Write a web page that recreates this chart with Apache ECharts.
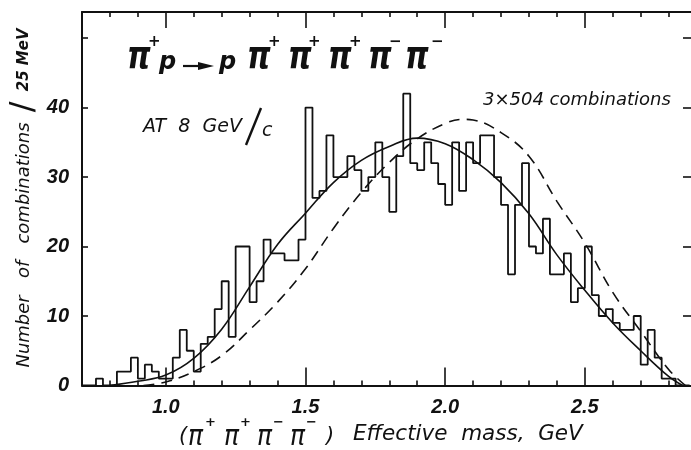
<!DOCTYPE html>
<html><head><meta charset="utf-8">
<script src="https://cdn.jsdelivr.net/npm/echarts@6/dist/echarts.min.js"></script>
<style>html,body{margin:0;padding:0;background:#fff}#c{width:691px;height:450px}</style>
</head><body><div id="c"></div>
<script>
// ---- data ----
const binStart = 0.700;   // GeV, lower edge of first bin
const binWidth = 0.025;   // GeV (25 MeV)
const counts = [0,0,1,0,0,2,2,4,1,3,2,1,1,4,8,5,2,6,7,11,15,7,20,20,12,15,21,19,19,18,
                18,21,40,27,28,36,30,30,33,31,28,30,35,30,25,33,42,32,31,35,32,29,26,35,28,35,32,36,36,30,
                26,16,26,32,20,19,24,16,16,19,12,14,20,13,10,11,9,8,8,10,3,8,4,1,1,0,0];
const solidMass = [0.80,0.90,1.00,1.10,1.20,1.30,1.40,1.50,1.60,1.70,1.80,1.90,2.00,2.10,2.20,2.30,2.40,2.50,2.60,2.70,2.80,2.85];
const solidVal  = [0,   0.6, 1.5, 3.9, 8.1, 14.2,20.3,24.8,29.2,32.4,34.4,35.6,34.8,32.5,29.2,24.7,18.8,13.7,9.0, 5.0, 1.3, 0];
const dashMass  = [0.92,1.00,1.10,1.20,1.30,1.40,1.50,1.60,1.70,1.80,1.90,2.00,2.06,2.10,2.20,2.30,2.40,2.50,2.60,2.70,2.80,2.86];
const dashVal   = [0,   0.5, 2.0, 4.3, 8.0, 12.0,16.8,22.6,27.8,32.1,35.5,37.7,38.3,38.2,36.4,33.0,26.5,20.5,13.4,7.8, 2.3, 0];
const xMajor = [1.0, 1.5, 2.0, 2.5];
const xMinor = [0.8,0.9,1.1,1.2,1.3,1.4,1.6,1.7,1.8,1.9,2.1,2.2,2.3,2.4,2.6,2.7,2.8];
const yTickVals = [10,20,30,40,50];
const yLabelVals = [0,10,20,30,40];

// ---- build ----
const histData = counts.map((c,i)=>[binStart+i*binWidth, c]);
histData.push([binStart+counts.length*binWidth, 0]);
const solidData = solidMass.map((m,i)=>[m, solidVal[i]]);
const dashData = dashMass.map((m,i)=>[m, dashVal[i]]);

const INK = '#111';
const X0 = 0.7, X1 = 2.88, Y0 = 0, Y1 = 53.75;
const labelFont = {fontFamily:'Liberation Sans', fontStyle:'italic', fontWeight:'bold', fontSize:20, color:INK};

function xa(pos, ticks, len, showLine, labels){
  return {type:'value', min:X0, max:X1, position:pos, gridIndex:0,
    axisLine:{show:showLine, onZero:false, lineStyle:{color:INK, width:2}},
    axisTick:{show:true, inside:true, length:len, customValues:ticks, lineStyle:{color:INK, width:1.6}},
    axisLabel: labels ? Object.assign({show:true, customValues:labels, margin:12,
        formatter:v=>Number(v).toFixed(1)}, labelFont) : {show:false},
    splitLine:{show:false}};
}

const option = {
  animation:false,
  backgroundColor:'#fff',
  grid:{left:82, right:0, top:12, bottom:64.5, containLabel:false},
  xAxis:[ xa('bottom', xMinor, 5, true, xMajor), xa('bottom', xMajor, 18, false, null),
          xa('top', xMinor, 5, true, null), xa('top', xMajor, 16, false, null) ],
  yAxis:[
    {type:'value', min:Y0, max:Y1, position:'left',
     axisLine:{show:true, onZero:false, lineStyle:{color:INK, width:2}},
     axisTick:{show:true, inside:true, length:6, customValues:yTickVals, lineStyle:{color:INK, width:1.6}},
     axisLabel:Object.assign({customValues:yLabelVals, margin:13}, labelFont),
     splitLine:{show:false}},
    {type:'value', min:Y0, max:Y1, position:'right',
     axisLine:{show:false},
     axisTick:{show:true, inside:true, length:8, customValues:yTickVals, lineStyle:{color:INK, width:1.6}},
     axisLabel:{show:false}, splitLine:{show:false}}
  ],
  series:[
    {type:'line', name:'histogram', data:histData, step:'end', symbol:'none',
     lineStyle:{color:INK, width:1.8}, z:3},
    {type:'line', name:'fit', data:solidData, smooth:0.4, symbol:'none',
     lineStyle:{color:INK, width:1.6}, z:2},
    {type:'line', name:'phase space', data:dashData, smooth:0.4, symbol:'none',
     lineStyle:{color:INK, width:1.6, type:[11,7]}, z:2}
  ],
  graphic:[]
};

const G = option.graphic;
function txt(x,y,s,st,extra){
  G.push(Object.assign({type:'text', x:x, y:y, z:10,
    style:Object.assign({text:s, fill:INK, fontFamily:'DejaVu Sans', fontStyle:'italic', textVerticalAlign:'middle', textAlign:'left'}, st)}, extra||{}));
}
// reaction title
const piSt = {fontFamily:'DejaVu Sans', fontWeight:'bold', fontSize:30};
const sgSt = {fontFamily:'DejaVu Sans', fontWeight:'bold', fontStyle:'normal', fontSize:15};
const piX = [127,247,288,328,368,405];
const sg = ['+','+','+','+','\u2212','\u2212'];
const sgX = [148,268,308,349,389,431];
piX.forEach((x,i)=>{ txt(x,58,'\u03c0',piSt,{scaleY:1.25});
  txt(sgX[i],42,sg[i],sgSt); });
txt(159,63,'p',{fontSize:24, fontWeight:'bold'});
txt(219,63,'p',{fontSize:24, fontWeight:'bold'});
G.push({type:'line', z:10, shape:{x1:183,y1:66,x2:205,y2:66}, style:{stroke:INK, lineWidth:2.2}});
G.push({type:'polygon', z:10, shape:{points:[[198,62],[214,66],[198,70]]}, style:{fill:INK}});
// AT 8 GeV/c
txt(143,127,'AT  8  GeV',{fontSize:19});
G.push({type:'line', z:10, shape:{x1:246,y1:145,x2:261,y2:108}, style:{stroke:INK, lineWidth:2.4}});
txt(262,131,'c',{fontSize:19});
// 3x504 combinations
txt(483,100,'3\u00d7504 combinations',{fontSize:18});
// x axis title
txt(179,437,'(',{fontSize:21});
const xpiX=[188,224,257,290], xsg=['+','+','\u2212','\u2212'], xsgX=[205,240,273,306];
xpiX.forEach((x,i)=>{ txt(x,438,'\u03c0',{fontSize:25},{scaleY:1.15});
  txt(xsgX[i],423,xsg[i],{fontSize:13, fontWeight:'bold', fontStyle:'normal'}); });
txt(326,437,')',{fontSize:21});
txt(353,434,'Effective  mass,  GeV',{fontSize:21.5});
// y axis title
G.push({type:'text', x:24, y:198, rotation:Math.PI/2, z:10,
  style:{text:'{a|Number   of   combinations}{s| / }{b|25 MeV}', textAlign:'center', textVerticalAlign:'middle', fill:INK,
    rich:{a:{fontFamily:'DejaVu Sans', fontStyle:'italic', fontSize:18, fill:INK},
          s:{fontFamily:'DejaVu Sans', fontSize:32, fill:INK},
          b:{fontFamily:'DejaVu Sans', fontStyle:'italic', fontWeight:'bold', fontSize:15, fill:INK}}}});

const chart = echarts.init(document.getElementById('c'));
chart.setOption(option);
</script></body></html>
